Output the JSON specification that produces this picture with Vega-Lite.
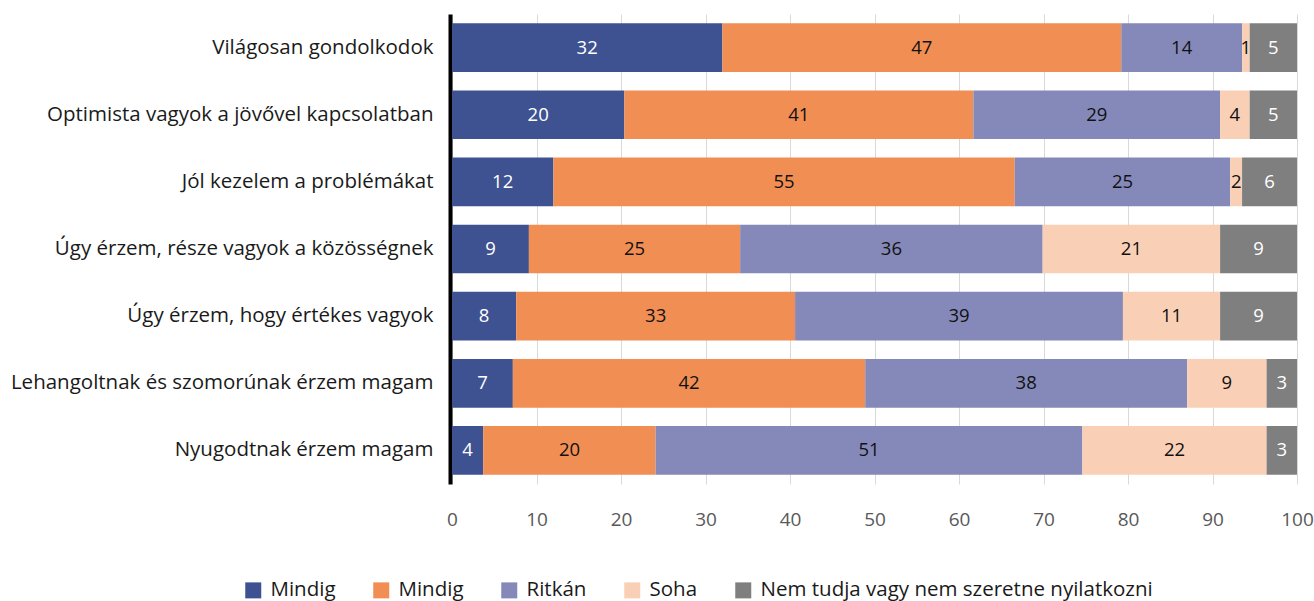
{
  "$schema": "https://vega.github.io/schema/vega-lite/v6.json",
  "autosize": {"type": "none"},
  "width": 845,
  "height": 470,
  "padding": {"left": 452, "top": 14, "right": 17, "bottom": 117},
  "background": "white",
  "config": {"view": {"stroke": null}, "font": "Open Sans"},
  "data": {
    "values": [
      {"allitas": "Világosan gondolkodok", "valasz": "Mindig", "sorrend": 1, "ertek": 32.0, "cimke": "32"},
      {"allitas": "Világosan gondolkodok", "valasz": "Mindig ", "sorrend": 2, "ertek": 47.2, "cimke": "47"},
      {"allitas": "Világosan gondolkodok", "valasz": "Ritkán", "sorrend": 3, "ertek": 14.3, "cimke": "14"},
      {"allitas": "Világosan gondolkodok", "valasz": "Soha", "sorrend": 4, "ertek": 0.9, "cimke": "1"},
      {"allitas": "Világosan gondolkodok", "valasz": "Nem tudja vagy nem szeretne nyilatkozni", "sorrend": 5, "ertek": 5.6, "cimke": "5"},
      {"allitas": "Optimista vagyok a jövővel kapcsolatban", "valasz": "Mindig", "sorrend": 1, "ertek": 20.4, "cimke": "20"},
      {"allitas": "Optimista vagyok a jövővel kapcsolatban", "valasz": "Mindig ", "sorrend": 2, "ertek": 41.3, "cimke": "41"},
      {"allitas": "Optimista vagyok a jövővel kapcsolatban", "valasz": "Ritkán", "sorrend": 3, "ertek": 29.2, "cimke": "29"},
      {"allitas": "Optimista vagyok a jövővel kapcsolatban", "valasz": "Soha", "sorrend": 4, "ertek": 3.5, "cimke": "4"},
      {"allitas": "Optimista vagyok a jövővel kapcsolatban", "valasz": "Nem tudja vagy nem szeretne nyilatkozni", "sorrend": 5, "ertek": 5.6, "cimke": "5"},
      {"allitas": "Jól kezelem a problémákat", "valasz": "Mindig", "sorrend": 1, "ertek": 12.0, "cimke": "12"},
      {"allitas": "Jól kezelem a problémákat", "valasz": "Mindig ", "sorrend": 2, "ertek": 54.6, "cimke": "55"},
      {"allitas": "Jól kezelem a problémákat", "valasz": "Ritkán", "sorrend": 3, "ertek": 25.5, "cimke": "25"},
      {"allitas": "Jól kezelem a problémákat", "valasz": "Soha", "sorrend": 4, "ertek": 1.4, "cimke": "2"},
      {"allitas": "Jól kezelem a problémákat", "valasz": "Nem tudja vagy nem szeretne nyilatkozni", "sorrend": 5, "ertek": 6.5, "cimke": "6"},
      {"allitas": "Úgy érzem, része vagyok a közösségnek", "valasz": "Mindig", "sorrend": 1, "ertek": 9.1, "cimke": "9"},
      {"allitas": "Úgy érzem, része vagyok a közösségnek", "valasz": "Mindig ", "sorrend": 2, "ertek": 25.0, "cimke": "25"},
      {"allitas": "Úgy érzem, része vagyok a közösségnek", "valasz": "Ritkán", "sorrend": 3, "ertek": 35.8, "cimke": "36"},
      {"allitas": "Úgy érzem, része vagyok a közösségnek", "valasz": "Soha", "sorrend": 4, "ertek": 21.0, "cimke": "21"},
      {"allitas": "Úgy érzem, része vagyok a közösségnek", "valasz": "Nem tudja vagy nem szeretne nyilatkozni", "sorrend": 5, "ertek": 9.1, "cimke": "9"},
      {"allitas": "Úgy érzem, hogy értékes vagyok", "valasz": "Mindig", "sorrend": 1, "ertek": 7.6, "cimke": "8"},
      {"allitas": "Úgy érzem, hogy értékes vagyok", "valasz": "Mindig ", "sorrend": 2, "ertek": 33.0, "cimke": "33"},
      {"allitas": "Úgy érzem, hogy értékes vagyok", "valasz": "Ritkán", "sorrend": 3, "ertek": 38.8, "cimke": "39"},
      {"allitas": "Úgy érzem, hogy értékes vagyok", "valasz": "Soha", "sorrend": 4, "ertek": 11.5, "cimke": "11"},
      {"allitas": "Úgy érzem, hogy értékes vagyok", "valasz": "Nem tudja vagy nem szeretne nyilatkozni", "sorrend": 5, "ertek": 9.1, "cimke": "9"},
      {"allitas": "Lehangoltnak és szomorúnak érzem magam", "valasz": "Mindig", "sorrend": 1, "ertek": 7.2, "cimke": "7"},
      {"allitas": "Lehangoltnak és szomorúnak érzem magam", "valasz": "Mindig ", "sorrend": 2, "ertek": 41.7, "cimke": "42"},
      {"allitas": "Lehangoltnak és szomorúnak érzem magam", "valasz": "Ritkán", "sorrend": 3, "ertek": 38.1, "cimke": "38"},
      {"allitas": "Lehangoltnak és szomorúnak érzem magam", "valasz": "Soha", "sorrend": 4, "ertek": 9.4, "cimke": "9"},
      {"allitas": "Lehangoltnak és szomorúnak érzem magam", "valasz": "Nem tudja vagy nem szeretne nyilatkozni", "sorrend": 5, "ertek": 3.6, "cimke": "3"},
      {"allitas": "Nyugodtnak érzem magam", "valasz": "Mindig", "sorrend": 1, "ertek": 3.7, "cimke": "4"},
      {"allitas": "Nyugodtnak érzem magam", "valasz": "Mindig ", "sorrend": 2, "ertek": 20.4, "cimke": "20"},
      {"allitas": "Nyugodtnak érzem magam", "valasz": "Ritkán", "sorrend": 3, "ertek": 50.5, "cimke": "51"},
      {"allitas": "Nyugodtnak érzem magam", "valasz": "Soha", "sorrend": 4, "ertek": 21.8, "cimke": "22"},
      {"allitas": "Nyugodtnak érzem magam", "valasz": "Nem tudja vagy nem szeretne nyilatkozni", "sorrend": 5, "ertek": 3.6, "cimke": "3"}
    ]
  },
  "transform": [
    {"stack": "ertek", "groupby": ["allitas"], "sort": [{"field": "sorrend", "order": "ascending"}], "as": ["x0", "x1"]},
    {"calculate": "(datum.x0 + datum.x1) / 2", "as": "xmid"}
  ],
  "encoding": {
    "y": {
      "field": "allitas",
      "type": "nominal",
      "sort": null,
      "title": null,
      "scale": {"paddingInner": 0.275, "paddingOuter": 0.1375},
      "axis": {
        "domain": true, "domainColor": "black", "domainWidth": 4, "offset": 2,
        "ticks": false, "tickSize": 0, "grid": false,
        "labelFontSize": 20.5, "labelColor": "#1a1a1a", "labelPadding": 17, "labelLimit": 600,
        "labelFont": "Open Sans"
      }
    }
  },
  "layer": [
    {
      "mark": {"type": "bar"},
      "encoding": {
        "x": {
          "field": "x0", "type": "quantitative", "title": null,
          "scale": {"domain": [0, 100], "nice": false},
          "axis": {
            "values": [0, 10, 20, 30, 40, 50, 60, 70, 80, 90, 100],
            "domain": false, "ticks": false, "tickSize": 0, "labelFlush": false,
            "grid": true, "gridColor": "#d9d9d9", "gridWidth": 1,
            "labelFontSize": 19, "labelColor": "#595959", "labelPadding": 26,
            "labelFont": "Open Sans"
          }
        },
        "x2": {"field": "x1"},
        "color": {
          "field": "valasz", "type": "nominal",
          "scale": {
            "domain": ["Mindig", "Mindig ", "Ritkán", "Soha", "Nem tudja vagy nem szeretne nyilatkozni"],
            "range": ["#3e5292", "#f18e54", "#8589b9", "#f9d0b5", "#7f7f7f"]
          },
          "legend": {
            "title": null, "orient": "none", "direction": "horizontal", "columns": 5,
            "legendX": -209, "legendY": 566,
            "symbolType": "square", "symbolSize": 256, "symbolStrokeWidth": 0,
            "labelFontSize": 20.5, "labelColor": "#1a1a1a", "labelOffset": 7,
            "columnPadding": 35, "labelFont": "Open Sans", "labelLimit": 600
          }
        }
      }
    },
    {
      "mark": {"type": "text", "fontSize": 18.5, "font": "Open Sans", "align": "center", "baseline": "middle"},
      "encoding": {
        "x": {"field": "xmid", "type": "quantitative"},
        "text": {"field": "cimke", "type": "nominal"},
        "color": {
          "condition": {"test": "datum.sorrend === 1 || datum.sorrend === 5", "value": "white"},
          "value": "#111111"
        }
      }
    }
  ]
}
